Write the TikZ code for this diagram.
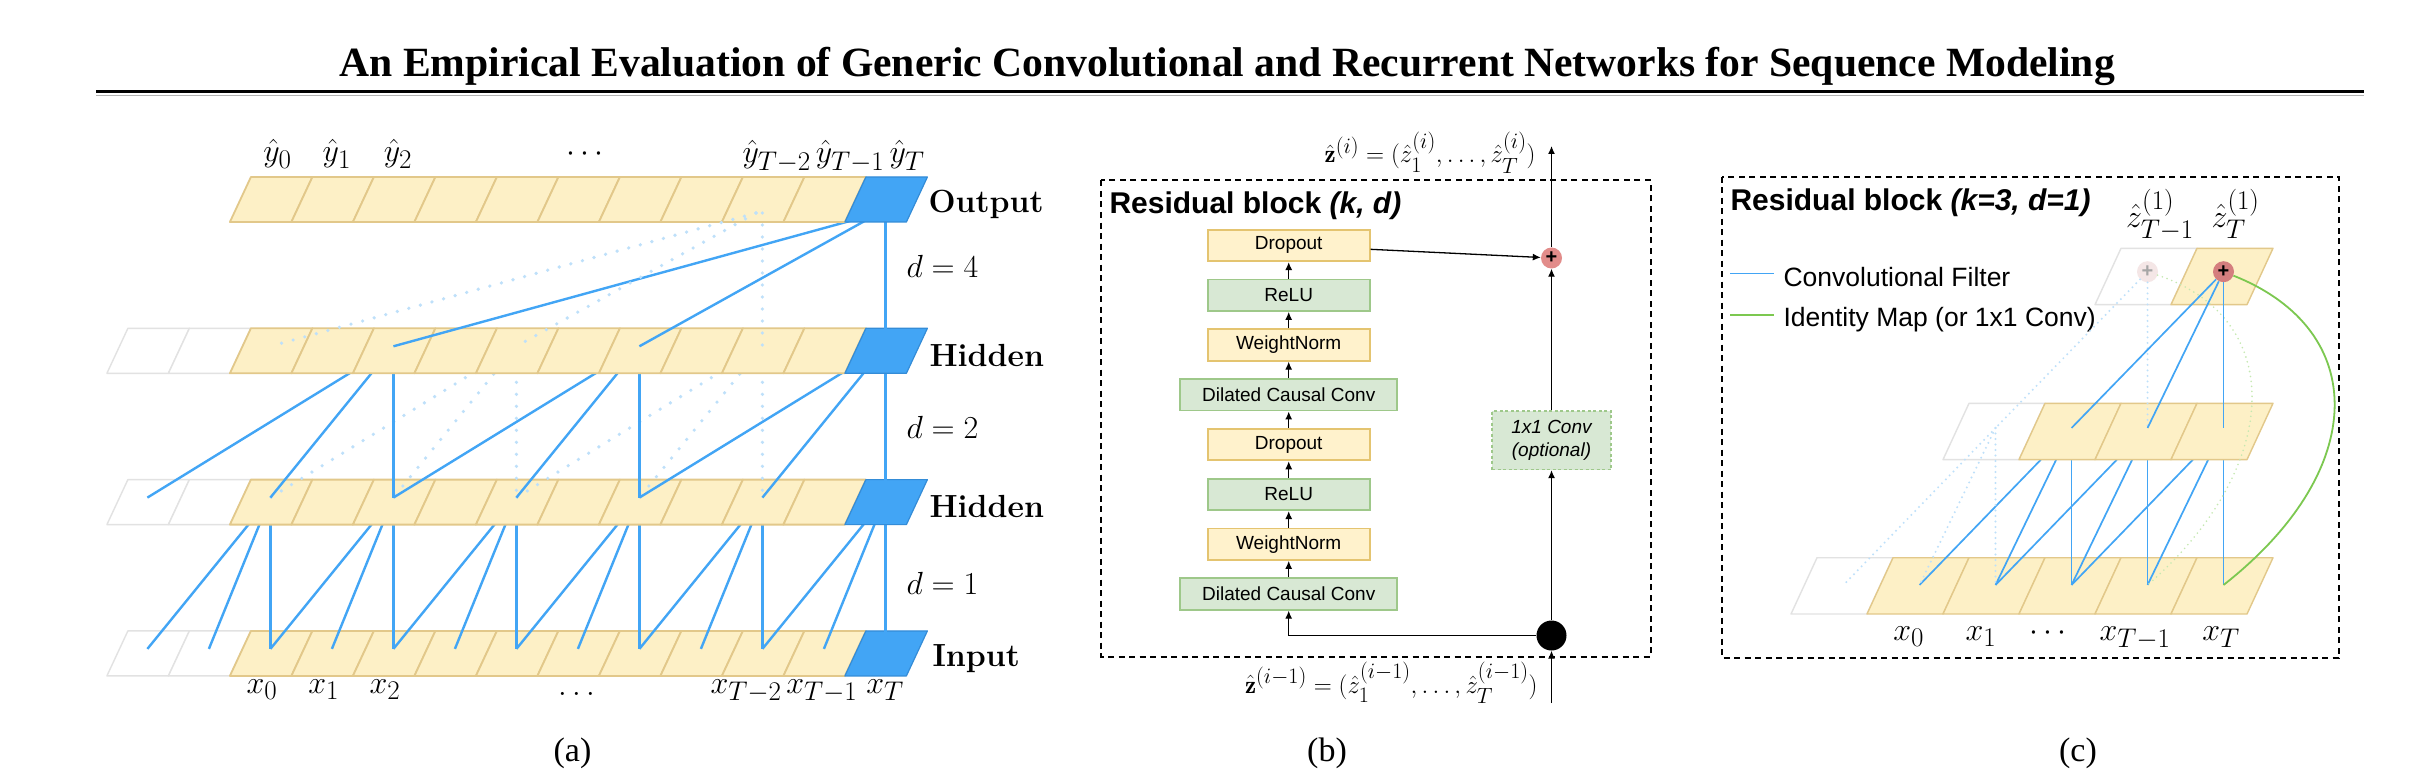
\RequirePackage{fix-cm}
\documentclass[tikz,border=0pt]{standalone}
\usepackage{amsmath}
\usepackage{fontspec}
\newfontfamily\titlefont{Liberation Serif}
\newfontfamily\helv{Liberation Sans}
\usepackage{tikz}
\usetikzlibrary{arrows.meta,positioning,calc}

% big scripts, as in the figure
\DeclareMathSizes{32}{32}{27}{20}
\DeclareMathSizes{25}{25}{22}{16}

\definecolor{cellfill}{RGB}{253,240,198}
\definecolor{celledge}{RGB}{226,200,138}
\definecolor{padedge}{RGB}{226,226,226}
\definecolor{tcnblue}{RGB}{66,165,245}
\definecolor{tcnblueedge}{RGB}{52,140,215}
\definecolor{dotblue}{RGB}{190,224,250}
\definecolor{blockyellow}{RGB}{255,242,204}
\definecolor{blockyellowedge}{RGB}{228,196,112}
\definecolor{blockgreen}{RGB}{216,232,212}
\definecolor{blockgreenedge}{RGB}{158,200,138}
\definecolor{sumred}{RGB}{226,140,138}
\definecolor{sumredc}{RGB}{212,126,126}
\definecolor{sumghost}{RGB}{244,230,230}
\definecolor{identgreen}{RGB}{124,200,80}
\definecolor{identghost}{RGB}{196,232,176}

\tikzset{
  cell/.style={fill=cellfill, draw=celledge, line width=1.8pt, line join=round},
  padcell/.style={fill=white, draw=padedge, line width=1.4pt, line join=round},
  lastcell/.style={fill=tcnblue, draw=tcnblueedge, line width=1.2pt, line join=round},
  cellc/.style={cell, line width=1.4pt},
  filt/.style={draw=tcnblue, line width=2.4pt},
  recep/.style={draw=dotblue, line width=3.6pt, line cap=round, dash pattern=on 0pt off 12pt},
  filtc/.style={draw=tcnblue, line width=1.7pt},
  recepc/.style={draw=dotblue, line width=2.2pt, line cap=round, dash pattern=on 0pt off 5.5pt},
  identc/.style={draw=identgreen, line width=1.8pt},
  identghostc/.style={draw=identghost, line width=1.8pt, line cap=round, dash pattern=on 0pt off 5pt},
  dashframe/.style={draw=black, line width=2pt, dash pattern=on 6pt off 4.5pt},
  block/.style={draw, line width=1.8pt, minimum width=162pt, minimum height=31.5pt, inner sep=0pt, font=\helv\fontsize{19}{22}\selectfont},
  yblock/.style={block, fill=blockyellow, draw=blockyellowedge},
  gblock/.style={block, fill=blockgreen, draw=blockgreenedge},
  flow/.style={draw=black, line width=1.3pt, -{Latex[length=8pt,width=7pt]}},
  sumnode/.style={circle, inner sep=0pt, minimum size=21pt, font=\helv\bfseries\fontsize{20}{20}\selectfont},
  rowlab/.style={anchor=base west, font=\fontsize{32}{38}\selectfont\bfseries},
  blocktitle/.style={anchor=base west, font=\helv\bfseries\fontsize{30}{36}\selectfont},
  subcap/.style={anchor=base, font=\titlefont\fontsize{34}{40}\selectfont},
}

% one slanted cell: style, bottom-left x, top y, width, height, slant
\newcommand{\slantcell}[6]{\draw[#1] ({#2},{#3+#5}) -- ++(#4,0) -- ++(#6,-#5) -- ++(-#4,0) -- cycle;}
% a row of panel (a): top y, first cell (0 = with padding)
\newcommand{\tcnrow}[2]{%
  \ifnum#2=0 \foreach \n in {0,1}{\slantcell{padcell}{106.9+61.5*\n}{#1}{61.5}{45}{21}}\fi
  \foreach \n in {2,...,11}{\slantcell{cell}{106.9+61.5*\n}{#1}{61.5}{45}{21}}
  \slantcell{lastcell}{106.9+61.5*12}{#1}{61.5}{45}{21}
}

\begin{document}
\begin{tikzpicture}[x=1pt, y=-1pt, font=\fontsize{32}{38}\selectfont]
\useasboundingbox (0,0) rectangle (2430,778);
\fill[white] (0,0) rectangle (2430,778);

% title
\node[anchor=base west, font=\titlefont\bfseries\fontsize{41.6}{50}\selectfont] (title) at (336,76.7)
  {An Empirical Evaluation of Generic Convolutional and Recurrent Networks for Sequence Modeling};
\draw[line width=3pt] (96,92) -- (2364,92);
\draw[black!30, line width=1pt] (96,95.3) -- (2364,95.3);

%%% (a) stack of dilated causal convolutions
\foreach \row/\rowy in {inp/630.9, hidB/479.6, hidA/328.3}
  \foreach \n in {0,...,12}
    \coordinate (\row-\n) at ({147.4+61.5*\n},{\rowy+18});
\foreach \n in {2,...,12}{
  \coordinate (outv-\n) at ({147.4+61.5*\n},213);
  \coordinate (outsrc-\n) at ({141+61.5*\n},213);
}

\tcnrow{630.9}{0}
% d = 1
\foreach \n in {2,4,...,12}
  \foreach \k in {0,1,2}{
    \pgfmathtruncatemacro\m{\n-\k}
    \draw[filt] (hidB-\n) -- (inp-\m);
  }
\tcnrow{479.6}{0}
% d = 2
\foreach \n in {6,10}
  \foreach \k in {0,2,4}{
    \pgfmathtruncatemacro\m{\n-\k}
    \draw[recep] (hidA-\n) -- (hidB-\m);
  }
\foreach \n in {4,8,12}
  \foreach \k in {0,2,4}{
    \pgfmathtruncatemacro\m{\n-\k}
    \draw[filt] (hidA-\n) -- (hidB-\m);
  }
\tcnrow{328.3}{0}
% d = 4
\draw[filt] (outv-12) -- (hidA-12);
\draw[filt] (outsrc-12) -- (hidA-8);
\draw[filt] (outsrc-12) -- (hidA-4);
\tcnrow{177}{2}
\draw[recep] (outv-10) -- (hidA-10);
\draw[recep] (outsrc-10) -- (hidA-6);
\draw[recep] (outsrc-10) -- (hidA-2);

\node[anchor=base] (yh0) at (277.5,162) {$\hat{y}_0$};
\node[anchor=base] (yh1) at (336.8,162) {$\hat{y}_1$};
\node[anchor=base] (yh2) at (398,162) {$\hat{y}_2$};
\node[anchor=base] (yhdots) at (587.5,162) {$\cdots$};
\node[anchor=base] (yhT2) at (776.7,163) {$\hat{y}_{T-2}$};
\node[anchor=base] (yhT1) at (850,163) {$\hat{y}_{T-1}$};
\node[anchor=base] (yhT) at (907,163) {$\hat{y}_T$};

\node[anchor=base] (x0) at (262,693) {$x_0$};
\node[anchor=base] (x1) at (323.6,693) {$x_1$};
\node[anchor=base] (x2) at (385,693) {$x_2$};
\node[anchor=base] (xdots) at (576.5,695) {$\ldots$};
\node[anchor=base] (xT2) at (746,693) {$x_{T-2}$};
\node[anchor=base] (xT1) at (821.7,693) {$x_{T-1}$};
\node[anchor=base] (xT) at (885,693) {$x_T$};

\node[rowlab] (outlab) at (925,212.5) {Output};
\node[rowlab] (hidAlab) at (926,366) {Hidden};
\node[rowlab] (hidBlab) at (926,517.7) {Hidden};
\node[rowlab] (inplab) at (929,666) {Input};
\node[anchor=base west] (d4) at (903,277) {$d = 4$};
\node[anchor=base west] (d2) at (903,438.2) {$d = 2$};
\node[anchor=base west] (d1) at (903,594.3) {$d = 1$};

%%% (b) residual block
\draw[dashframe] (1101,180.5) rectangle (1650.5,656.5);
\node[blocktitle] (titleB) at (1106,214) {Residual block \textit{(k, d)}};
\node[gblock, minimum width=217pt] (convA) at (1288.7,594) {Dilated Causal Conv};
\node[yblock, above=16.5pt of convA] (wnA) {WeightNorm};
\node[gblock, above=16.5pt of wnA] (reluA) {ReLU};
\node[yblock, above=16.5pt of reluA] (dropA) {Dropout};
\node[gblock, minimum width=217pt, above=16.5pt of dropA] (convB) {Dilated Causal Conv};
\node[yblock, above=16.5pt of convB] (wnB) {WeightNorm};
\node[gblock, above=16.5pt of wnB] (reluB) {ReLU};
\node[yblock, above=16.5pt of reluB] (dropB) {Dropout};
\foreach \a/\b in {convA/wnA, wnA/reluA, reluA/dropA, dropA/convB, convB/wnB, wnB/reluB, reluB/dropB}
  \draw[flow] (\a) -- (\b);

\node[circle, fill=black, minimum size=30pt, inner sep=0pt] (split) at (1551.5,635.5) {};
\node[draw=blockgreenedge, fill=blockgreen, line width=1.2pt, dash pattern=on 3pt off 2.5pt,
  minimum width=119pt, minimum height=58.5pt, align=center,
  font=\helv\itshape\fontsize{19}{23}\selectfont] (skip) at (1551.5,440.3) {1x1 Conv\\(optional)};
\node[sumnode, fill=sumred] (sumB) at (1551.5,258) {+};
\coordinate (zin) at (1551.5,703);
\coordinate (zout) at (1551.5,146);
\draw[flow] (zin) -- (split);
\draw[flow] (split) -| (convA);
\draw[flow] (split) -- (skip);
\draw[flow] (skip) -- (sumB);
\draw[flow] (dropB) -- (sumB);
\draw[flow] (sumB) -- (zout);
\node[anchor=base east, font=\fontsize{25}{30}\selectfont] (zoutlab) at (1539,163)
  {$\hat{\mathbf{z}}^{(i)} = (\hat{z}_1^{(i)}, \ldots, \hat{z}_T^{(i)})$};
\node[anchor=base east, font=\fontsize{25}{30}\selectfont] (zinlab) at (1541,693)
  {$\hat{\mathbf{z}}^{(i-1)} = (\hat{z}_1^{(i-1)}, \ldots, \hat{z}_T^{(i-1)})$};

%%% (c) one block, k=3, d=1
\draw[dashframe] (1722.4,176.6) rectangle (2338.5,658.3);
\node[blocktitle] (titleC) at (1727,210.6) {Residual block \textit{(k=3, d=1)}};
\draw[filtc] (1730,273.5) -- (1774,273.5);
\draw[identc] (1730,315) -- (1774,315);
\node[anchor=base west, font=\helv\fontsize{26.5}{30}\selectfont] (legconv) at (1780,286.5) {Convolutional Filter};
\node[anchor=base west, font=\helv\fontsize{26.5}{30}\selectfont] (legident) at (1780,326) {Identity Map (or 1x1 Conv)};

\foreach \m in {0,...,5} \coordinate (cb-\m) at ({1843.5+76*\m},585);
\foreach \m in {2,...,5} \coordinate (cm-\m) at ({1843.5+76*\m},428);

\slantcell{padcell}{1791}{557.7}{76}{56.3}{26}
\foreach \m in {1,...,5}{\slantcell{cellc}{1791+76*\m}{557.7}{76}{56.3}{26}}
\foreach \m in {3,4,5}
  \foreach \k in {0,1,2}{
    \pgfmathtruncatemacro\j{\m-\k}
    \draw[filtc] (cm-\m) -- (cb-\j);
  }
\slantcell{padcell}{1791+76*2}{403.3}{76}{56.3}{26}
\foreach \m in {3,4,5}{\slantcell{cellc}{1791+76*\m}{403.3}{76}{56.3}{26}}
\slantcell{padcell}{1791+76*4}{248.3}{76}{56.3}{26}
\slantcell{cellc}{1791+76*5}{248.3}{76}{56.3}{26}

\node[sumnode, fill=sumghost, text=black!35] (sumG) at (2147.5,271.7) {+};
\node[sumnode, fill=sumredc] (sumT) at (2223.5,271.7) {+};
\foreach \j in {0,1,2} \draw[recepc] (cm-2) -- (cb-\j);
\draw[recepc] (sumG) -- (cm-2);
\draw[recepc] (sumG) -- (cm-4);
\draw[identghostc] (sumG) .. controls (2290,320) and (2280,470) .. (cb-4);
\draw[identc] (sumT) .. controls (2370,330) and (2370,470) .. (cb-5);
\foreach \j in {3,4,5} \draw[filtc] (sumT) -- (cm-\j);

\node[anchor=base] (zT1) at (2160,227) {$\hat{z}^{(1)}_{T-1}$};
\node[anchor=base] (zT) at (2235.5,227) {$\hat{z}^{(1)}_{T}$};
\node[anchor=base] (cx0) at (1908.6,640) {$x_0$};
\node[anchor=base] (cx1) at (1981,640) {$x_1$};
\node[anchor=base] (cxdots) at (2050.5,640) {$\cdots$};
\node[anchor=base] (cxT1) at (2135,640) {$x_{T-1}$};
\node[anchor=base] (cxT) at (2221,640) {$x_T$};

% sub-captions
\node[subcap] (capA) at (572.5,761) {(a)};
\node[subcap] (capB) at (1327,761) {(b)};
\node[subcap] (capC) at (2078,761) {(c)};
\end{tikzpicture}
\end{document}
